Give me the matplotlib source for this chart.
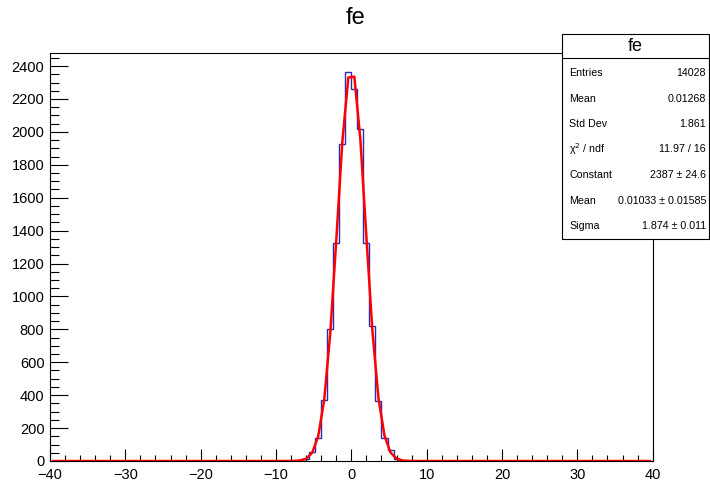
import numpy as np
import matplotlib.pyplot as plt
from matplotlib.patches import Rectangle
from matplotlib.ticker import MultipleLocator

plt.rcParams['font.family'] = ['Liberation Sans', 'DejaVu Sans']

# histogram: 100 bins from -40 to 40, only the bins near 0 are filled
x_min, x_max, n_bins = -40.0, 40.0, 100
filled_lo = -6.4  # left edge of first filled bin
filled_counts = [10, 56, 139, 370, 804, 1323, 1928, 2363,
                 2258, 2019, 1323, 818, 366, 141, 67, 15]

# fit results (gaus) as shown in the stats box
fit_const, fit_mean, fit_sigma = 2387.0, 0.01033, 1.874

stat_labels = ["Entries", "Mean", "Std Dev", "\u03c7$^2$ / ndf", "Constant", "Mean", "Sigma"]
stat_values = ["14028", "0.01268", "1.861", "11.97 / 16",
               "2387 \u00b1 24.6", "0.01033 \u00b1 0.01585", "1.874 \u00b1 0.011"]

edges = np.linspace(x_min, x_max, n_bins + 1)
counts = np.zeros(n_bins)
i0 = int(round((filled_lo - x_min) / (edges[1] - edges[0])))
counts[i0:i0 + len(filled_counts)] = filled_counts
centers = 0.5 * (edges[:-1] + edges[1:])
fit_y = fit_const * np.exp(-0.5 * ((centers - fit_mean) / fit_sigma) ** 2)

W, H = 710, 483
fig = plt.figure(figsize=(W / 100, H / 100), dpi=100)
def fx(px): return px / W
def fy(py): return 1 - py / H

ax = fig.add_axes([fx(50), fy(461), fx(652.7) - fx(50), fy(52.7) - fy(461)])
ax.stairs(counts, edges, color='#2a2ab0', linewidth=1.0)
ax.plot(centers, fit_y, color='red', linewidth=1.8)
ax.set_xlim(x_min, x_max)
ax.set_ylim(0, 1.05 * counts.max())

ax.xaxis.set_major_locator(MultipleLocator(10))
ax.xaxis.set_minor_locator(MultipleLocator(2))
ax.yaxis.set_major_locator(MultipleLocator(200))
ax.yaxis.set_minor_locator(MultipleLocator(50))
ax.tick_params(axis='both', which='both', direction='in', top=False, right=False,
               labelsize=10.5, width=0.8, color='black')
ax.tick_params(axis='x', which='major', length=9, pad=5)
ax.tick_params(axis='x', which='minor', length=4.5)
ax.tick_params(axis='y', which='major', length=13, pad=4)
ax.tick_params(axis='y', which='minor', length=6.5)
for s in ax.spines.values():
    s.set_linewidth(0.8)

fig.text(0.5, fy(18), "fe", ha='center', va='center', fontsize=17)

# stats box
box_l, box_r, box_t, box_b = 562, 709, 34, 239
fig.patches.append(Rectangle((fx(box_l), fy(box_b)), fx(box_r) - fx(box_l), fy(box_t) - fy(box_b),
                             transform=fig.transFigure, facecolor='white', edgecolor='black',
                             linewidth=0.8, zorder=5))
fig.add_artist(plt.Line2D([fx(box_l), fx(box_r)], [fy(58.3), fy(58.3)],
                          transform=fig.transFigure, color='black', linewidth=0.8, zorder=6))
fig.text(fx((box_l + box_r) / 2), fy(46.5), "fe", ha='center', va='center', fontsize=13, zorder=7)
row_y = np.linspace(73, 226, len(stat_labels))
for lab, val, yy in zip(stat_labels, stat_values, row_y):
    fig.text(fx(569), fy(yy), lab, ha='left', va='center', fontsize=7.7, zorder=7)
    fig.text(fx(706), fy(yy), val, ha='right', va='center', fontsize=7.7, zorder=7)

fig.savefig("out.png", dpi=100)
